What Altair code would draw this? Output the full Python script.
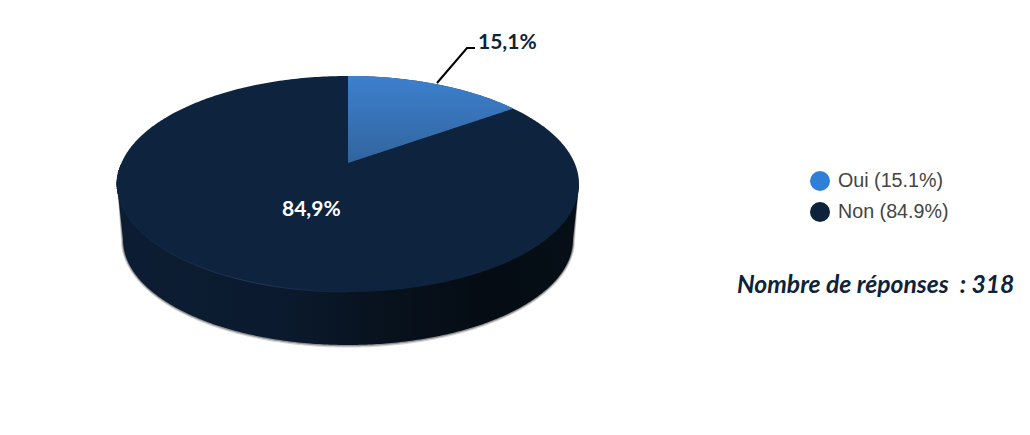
import math
import numpy as np
import pandas as pd
import altair as alt

# Values
categories = ["Oui", "Non"]
shares = [15.1, 84.9]
colors = ["#2f7ed8", "#0d233a"]
decimal_labels = ["15,1%", "84,9%"]
legend_labels = ["Oui (15.1%)", "Non (84.9%)"]
note_text = "Nombre de réponses\u00a0\u00a0: 318"

# Faux-3D geometry, in page pixels (scales below are 1:1 with the page)
CX, APEX_Y, RX, RY_OUT, P = 348.0, 163.0, 226.7, 104.0, 0.194
TOP_CY, TOP_A, TOP_B = 184.0, 231.0, 108.0
BASE_CY, BASE_A, BASE_B = 240.0, 225.0, 105.0

x_scale = alt.Scale(domain=[8, 1018], nice=False, zero=False)
y_scale = alt.Scale(domain=[420, 8], nice=False, zero=False)
X = alt.X("x:Q", scale=x_scale, axis=None)
Y = alt.Y("y:Q", scale=y_scale, axis=None, stack=None)
Y2 = alt.Y2("y2:Q")


def project(theta):
    u, v = np.sin(theta), np.cos(theta)
    d = 1 + P * v
    return CX + RX * u / d, APEX_Y - RY_OUT * v / d


# top disc
phi = np.radians(np.linspace(-90, 90, 241))
top = pd.DataFrame({
    "x": CX + TOP_A * np.sin(phi),
    "y": TOP_CY - TOP_B * np.cos(phi),
    "y2": TOP_CY + TOP_B * np.cos(phi),
})

# Oui wedge on the disc
theta = np.linspace(0, 2 * math.pi * shares[0] / 100, 90)
wx, wy = project(theta)
wedge = pd.DataFrame({
    "x": wx,
    "y": wy,
    "y2": APEX_Y + (wy[-1] - APEX_Y) * (wx - CX) / (wx[-1] - CX),
})


# side wall: tangent edge from the disc down to the base ellipse
def wall_frame(grow_a=0.0, grow_b=0.0):
    xs = np.concatenate([[CX - TOP_A], CX + (BASE_A + grow_a) * np.sin(phi), [CX + TOP_A]])
    low = np.concatenate([[TOP_CY], BASE_CY + (BASE_B + grow_b) * np.cos(phi), [TOP_CY]])
    order = np.argsort(xs, kind="stable")
    return pd.DataFrame({"x": xs[order], "y": np.full(xs.shape, TOP_CY), "y2": low[order]})


wall = wall_frame()
shadow1 = wall_frame(2.0, 2.6)
shadow2 = wall_frame(1.0, 1.3)

# light rim on the front-left of the disc
rim_t = np.radians(np.linspace(-100, 0, 80))
rim = pd.DataFrame({
    "x": CX + TOP_A * np.sin(rim_t),
    "y": TOP_CY + TOP_B * np.cos(rim_t),
})

leader = pd.DataFrame({"x": [437, 467, 475], "y": [83, 48, 48], "o": [0, 1, 2]})


def area(df, **kw):
    return alt.Chart(df).mark_area(**kw).encode(x=X, y=Y, y2=Y2)


wall_fill = alt.Gradient(
    gradient="linear", x1=0, x2=1, y1=0, y2=0,
    stops=[
        alt.GradientStop(offset=0, color="#0c1d33"),
        alt.GradientStop(offset=0.35, color="#0b1a2e"),
        alt.GradientStop(offset=0.55, color="#08131f"),
        alt.GradientStop(offset=0.8, color="#050c13"),
        alt.GradientStop(offset=1, color="#060f17"),
    ],
)
wedge_fill = alt.Gradient(
    gradient="linear", x1=0, x2=0, y1=0, y2=1,
    stops=[
        alt.GradientStop(offset=0, color="#3d80cf"),
        alt.GradientStop(offset=1, color="#31649d"),
    ],
)
rim_stroke = alt.Gradient(
    gradient="linear", x1=0, x2=1, y1=0, y2=0,
    stops=[
        alt.GradientStop(offset=0, color="#0e233e"),
        alt.GradientStop(offset=0.6, color="#22395a"),
        alt.GradientStop(offset=1, color="#0e233e"),
    ],
)

legend_df = pd.DataFrame({"label": legend_labels, "x": [820, 820], "y": [181, 212]})
legend_layer = alt.Chart(legend_df).mark_circle(opacity=0).encode(
    x=X,
    y=alt.Y("y:Q", scale=y_scale, axis=None),
    color=alt.Color(
        "label:N",
        scale=alt.Scale(domain=legend_labels, range=colors),
        legend=alt.Legend(
            title=None, orient="none", legendX=802, legendY=163,
            symbolType="circle", symbolSize=400, symbolOpacity=1, symbolStrokeWidth=0,
            labelFont="Liberation Sans", labelFontSize=19.7, labelColor="#444444",
            labelOffset=8, rowPadding=11, labelLimit=300,
        ),
    ),
)


def text(df, **kw):
    return alt.Chart(df).mark_text(**kw).encode(
        x=X, y=alt.Y("y:Q", scale=y_scale, axis=None), text="t:N"
    )


chart = alt.layer(
    area(shadow1, color="#000000", opacity=0.18),
    area(shadow2, color="#000000", opacity=0.3),
    area(wall, color=wall_fill),
    area(top, color="#0e233e"),
    area(wedge, color=wedge_fill),
    alt.Chart(rim).mark_line(stroke=rim_stroke, strokeWidth=1).encode(x=X, y=alt.Y("y:Q", scale=y_scale, axis=None), order=alt.Order("x:Q")),
    alt.Chart(leader).mark_line(color="#000000", strokeWidth=2).encode(x=X, y=alt.Y("y:Q", scale=y_scale, axis=None), order="o:Q"),
    text(pd.DataFrame({"t": [decimal_labels[0]], "x": [478], "y": [43]}),
         align="left", baseline="middle", font="Lato", fontSize=21, fontWeight="bold", color="#0d233a"),
    text(pd.DataFrame({"t": [decimal_labels[1]], "x": [282], "y": [209.5]}),
         align="left", baseline="middle", font="Lato", fontSize=21, fontWeight="bold", color="#ffffff"),
    text(pd.DataFrame({"t": [note_text], "x": [737], "y": [286]}),
         align="left", baseline="middle", font="Lato", fontSize=24.7, fontWeight="bold", fontStyle="italic", color="#0d233a"),
    legend_layer,
).properties(
    width=1010, height=412, padding=0, autosize=alt.AutoSizeParams(type="none"),
).configure_view(stroke=None)

chart.save("out.html", embed_options={"renderer": "svg", "actions": False})
